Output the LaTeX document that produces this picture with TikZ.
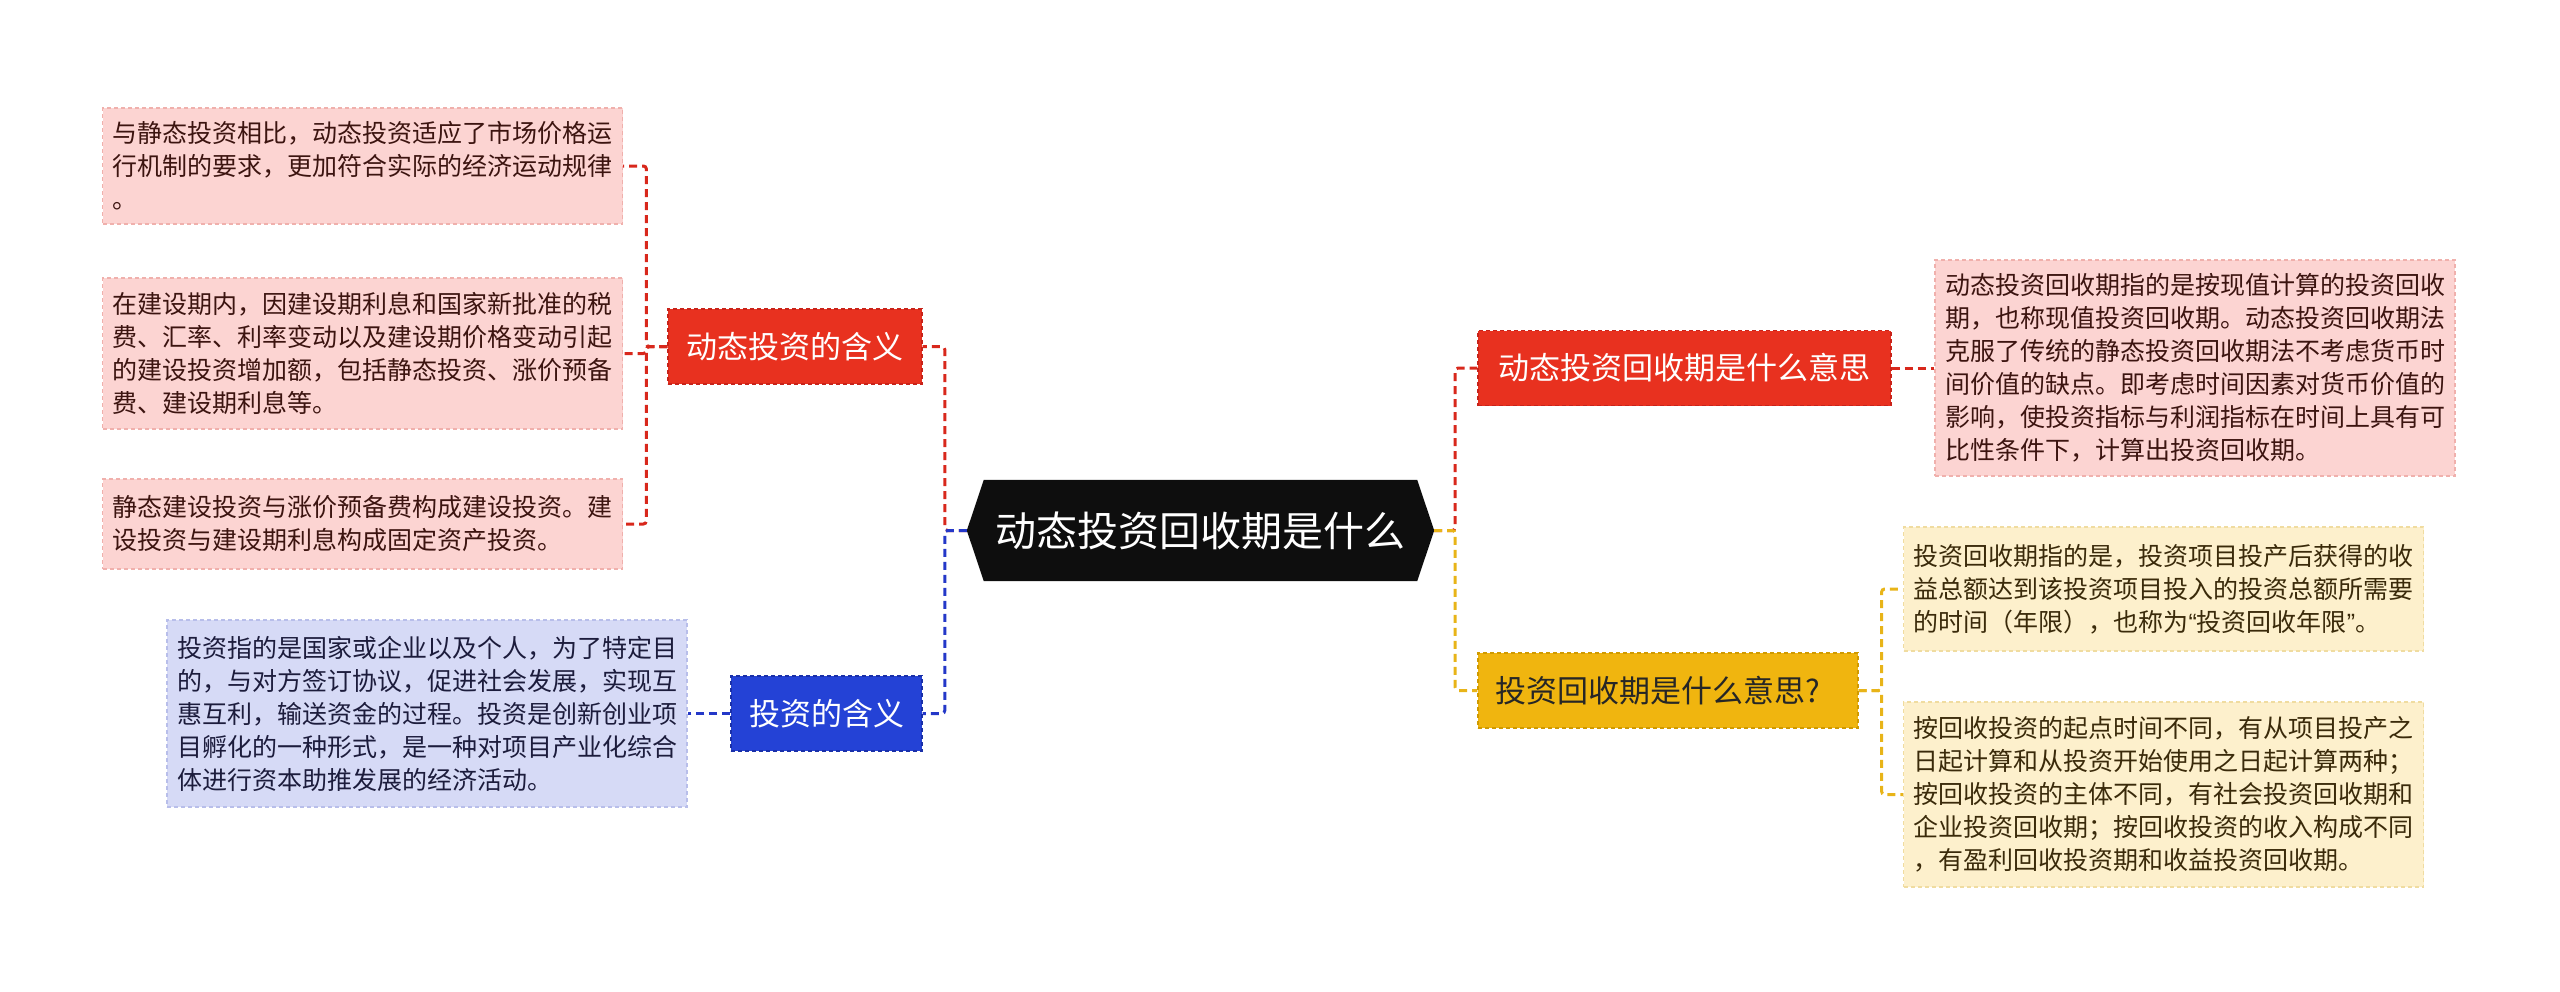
\documentclass[tikz,border=0pt]{standalone}
\usepackage{fontspec}
\setmainfont{Noto Sans CJK SC}
\newfontfamily\quotefont{Liberation Sans}
\usetikzlibrary{backgrounds}
\definecolor{rootfill}{HTML}{0E0E0E}
\definecolor{redfill}{HTML}{E8311F}
\definecolor{redline}{HTML}{C8231A}
\definecolor{pinkfill}{HTML}{FCD4D2}
\definecolor{pinkline}{HTML}{F0B0AC}
\definecolor{pinktext}{HTML}{3C1410}
\definecolor{bluefill}{HTML}{2442D6}
\definecolor{blueline}{HTML}{1A30A8}
\definecolor{lbluefill}{HTML}{D6DAF6}
\definecolor{lblueline}{HTML}{B8BEEA}
\definecolor{bluetext}{HTML}{1C1C3C}
\definecolor{yelfill}{HTML}{F0B50F}
\definecolor{yelline}{HTML}{D09A00}
\definecolor{lyelfill}{HTML}{FDF0CC}
\definecolor{lyelline}{HTML}{F0DCA0}
\definecolor{yeltext}{HTML}{3A2A0A}
\definecolor{conred}{HTML}{D8281C}
\definecolor{conblue}{HTML}{2438C8}
\definecolor{conyel}{HTML}{E8B418}
\begin{document}
\begin{tikzpicture}[x=1pt,y=-1pt,
  leafbox/.style={text width=500pt, align=left, inner xsep=10pt, inner ysep=0pt,
    font=\fontsize{25pt}{33pt}\selectfont, draw, dash pattern=on 4pt off 3pt, line width=1.2pt},
  pinkleaf/.style={leafbox, fill=pinkfill, draw=pinkline, text=pinktext},
  blueleaf/.style={leafbox, fill=lbluefill, draw=lblueline, text=bluetext},
  yelleaf/.style={leafbox, fill=lyelfill, draw=lyelline, text=yeltext},
  branchbox/.style={minimum height=75pt, inner xsep=18pt, inner ysep=0pt,
    font=\fontsize{31pt}{36pt}\selectfont, draw, dash pattern=on 4pt off 3pt, line width=1.2pt},
  redbranch/.style={branchbox, fill=redfill, draw=redline, text=white},
  bluebranch/.style={branchbox, fill=bluefill, draw=blueline, text=white},
  yelbranch/.style={branchbox, fill=yelfill, draw=yelline, text=black!85},
  conn/.style={line width=3pt, dash pattern=on 8pt off 5pt, rounded corners=3pt},
]
\useasboundingbox (0,0) rectangle (2560,991);

% root
\node[minimum width=433pt, minimum height=101pt, inner sep=0pt, text=white,
  font=\fontsize{41pt}{48pt}\selectfont] (root) at (1200.5,530.5) {动态投资回收期是什么};
\begin{scope}[on background layer]
\fill[rootfill] (root.north west) -- (root.north east) -- ([xshift=17pt]root.east)
  -- (root.south east) -- (root.south west) -- ([xshift=-17pt]root.west) -- cycle;
\end{scope}

% branches
\node[redbranch, minimum width=254pt] (b1) at (795,346.5) {动态投资的含义};
\node[bluebranch, minimum width=191pt] (b2) at (826.5,713.5) {投资的含义};
\node[redbranch, minimum width=413pt] (b3) at (1684.5,368) {动态投资回收期是什么意思};
\node[yelbranch, text width=346pt, align=left, inner xsep=17pt] (b4) at (1668,690.5) {投资回收期是什么意思?};

% leaves
\node[pinkleaf, minimum height=116pt] (l1) at (362.5,166) {与静态投资相比，动态投资适应了市场价格运\\行机制的要求，更加符合实际的经济运动规律\\。};
\node[pinkleaf, minimum height=151pt] (l2) at (362.5,353.5) {在建设期内，因建设期利息和国家新批准的税\\费、汇率、利率变动以及建设期价格变动引起\\的建设投资增加额，包括静态投资、涨价预备\\费、建设期利息等。};
\node[pinkleaf, minimum height=90pt] (l3) at (362.5,524) {静态建设投资与涨价预备费构成建设投资。建\\设投资与建设期利息构成固定资产投资。};
\node[blueleaf, minimum height=187pt] (l4) at (427,713.5) {投资指的是国家或企业以及个人，为了特定目\\的，与对方签订协议，促进社会发展，实现互\\惠互利，输送资金的过程。投资是创新创业项\\目孵化的一种形式，是一种对项目产业化综合\\体进行资本助推发展的经济活动。};
\node[pinkleaf, minimum height=216pt] (l5) at (2195,368) {动态投资回收期指的是按现值计算的投资回收\\期，也称现值投资回收期。动态投资回收期法\\克服了传统的静态投资回收期法不考虑货币时\\间价值的缺点。即考虑时间因素对货币价值的\\影响，使投资指标与利润指标在时间上具有可\\比性条件下，计算出投资回收期。};
\node[yelleaf, minimum height=124pt] (l6) at (2163.5,589) {投资回收期指的是，投资项目投产后获得的收\\益总额达到该投资项目投入的投资总额所需要\\的时间（年限），也称为{\quotefont “}投资回收年限{\quotefont ”}。};
\node[yelleaf, minimum height=185pt] (l7) at (2163.5,794.5) {按回收投资的起点时间不同，有从项目投产之\\日起计算和从投资开始使用之日起计算两种；\\按回收投资的主体不同，有社会投资回收期和\\企业投资回收期；按回收投资的收入构成不同\\，有盈利回收投资期和收益投资回收期。};

% connectors
\begin{scope}[on background layer]
\draw[conn, conred] ([xshift=-17pt]root.west) -- ++(-22,0) |- (b1.east);
\draw[conn, conblue] ([xshift=-17pt]root.west) -- ++(-22,0) |- (b2.east);
\draw[conn, conred] ([xshift=17pt]root.east) -- ++(21,0) |- (b3.west);
\draw[conn, conyel] ([xshift=17pt]root.east) -- ++(21,0) |- (b4.west);
\draw[conn, conred] (b1.west) -- ++(-21,0) |- (l1.east);
\draw[conn, conred] (b1.west) -- ++(-21,0) |- (l2.east);
\draw[conn, conred] (b1.west) -- ++(-21,0) |- (l3.east);
\draw[conn, conblue] (b2.west) -- (l4.east);
\draw[conn, conred] (b3.east) -- (l5.west);
\draw[conn, conyel] (b4.east) -- ++(23,0) |- (l6.west);
\draw[conn, conyel] (b4.east) -- ++(23,0) |- (l7.west);
\end{scope}
\end{tikzpicture}
\end{document}
